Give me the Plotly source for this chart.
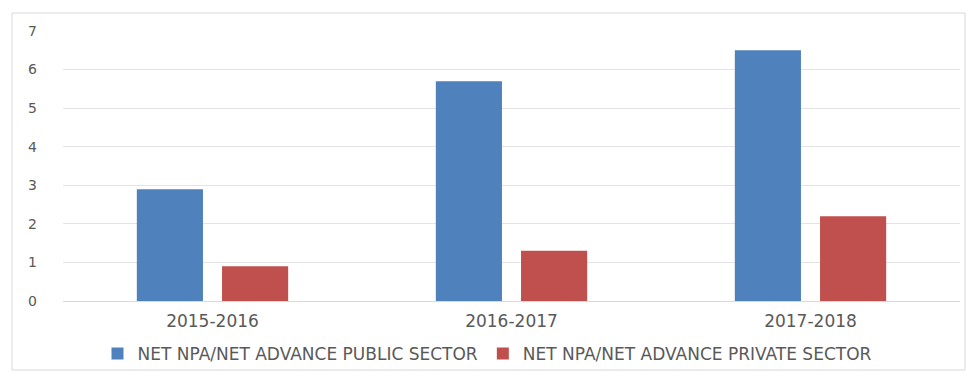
import plotly.graph_objects as go

categories = ["2015-2016", "2016-2017", "2017-2018"]
public_sector = [2.9, 5.7, 6.5]
private_sector = [0.9, 1.3, 2.2]
y_ticks = [0, 1, 2, 3, 4, 5, 6, 7]

fig = go.Figure()
fig.add_trace(go.Bar(x=categories, y=public_sector, name="NET NPA/NET ADVANCE PUBLIC SECTOR",
                     marker=dict(color="#4F81BD", line=dict(width=0))))
fig.add_trace(go.Bar(x=categories, y=private_sector, name="NET NPA/NET ADVANCE PRIVATE SECTOR",
                     marker=dict(color="#C0504D", line=dict(width=0))))

font_family = "'DejaVu Sans', sans-serif"
fig.update_layout(
    width=975, height=374,
    margin=dict(l=63, r=15, t=31, b=73, autoexpand=False),
    paper_bgcolor="white", plot_bgcolor="white",
    barmode="group", bargap=0.43, bargroupgap=0.224,
    font=dict(family=font_family, size=15, color="#595959"),
    showlegend=True,
    legend=dict(orientation="h", x=0.5, xanchor="center", xref="container",
                y=(374 - 354) / 374, yanchor="middle", yref="container",
                bgcolor="rgba(0,0,0,0)",
                font=dict(size=17, color="#595959"), itemwidth=30, traceorder="normal"),
    xaxis=dict(showgrid=False, showline=False, ticks="", ticklabelstandoff=8, automargin=False,
               tickfont=dict(size=17, color="#595959")),
    yaxis=dict(range=[0, 7], tickvals=y_ticks, showgrid=True, gridcolor="#E3E3E3",
               gridwidth=1, zeroline=True, zerolinecolor="#D9D9D9", zerolinewidth=1,
               showline=False, ticks="", ticklabelstandoff=25, automargin=False,
               tickfont=dict(size=14, color="#595959")),
    shapes=[dict(type="rect", xref="paper", yref="paper",
                 x0=(12 - 63) / 897, x1=(965 - 63) / 897,
                 y0=(301 - 370) / 270, y1=(301 - 13) / 270,
                 line=dict(color="#D9D9D9", width=1), fillcolor="rgba(0,0,0,0)", layer="below")],
)

fig.write_html("out.html")
